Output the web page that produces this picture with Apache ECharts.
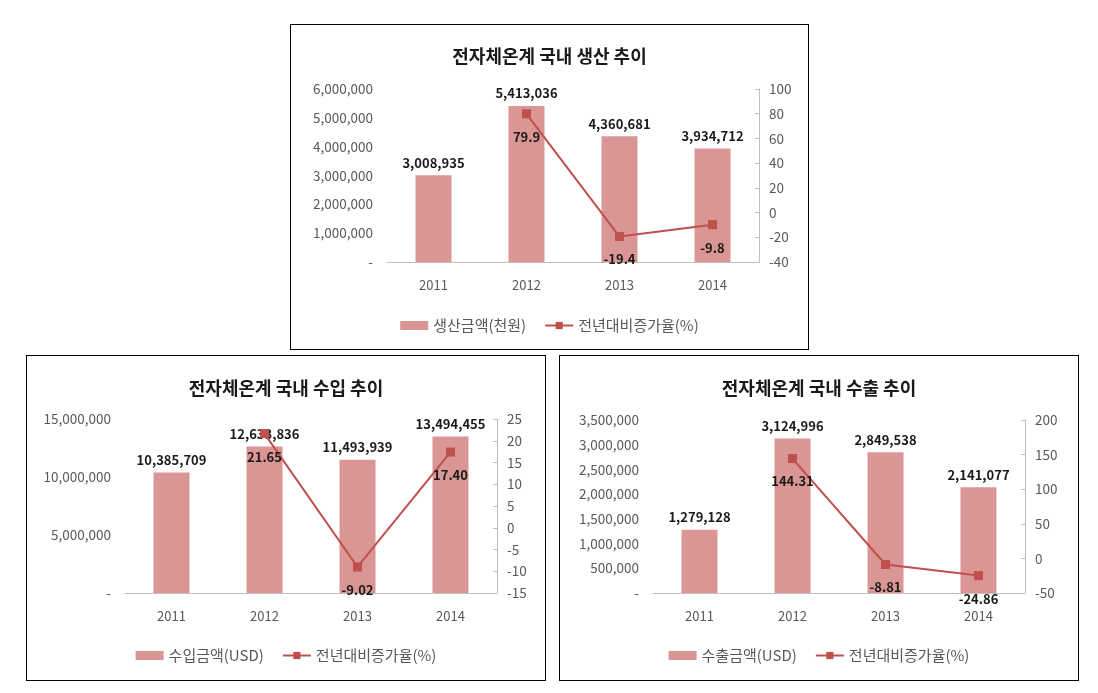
<!DOCTYPE html>
<html>
<head>
<meta charset="utf-8">
<script src="https://cdn.jsdelivr.net/npm/echarts@6/dist/echarts.min.js"></script>
<style>
  html, body { margin: 0; padding: 0; background: #ffffff; width: 1098px; height: 693px; overflow: hidden; }
  .panel { position: absolute; border: 1.5px solid #000; box-sizing: border-box; background: #fff; }
</style>
</head>
<body>
<div id="p1" class="panel" style="left:290px; top:24px; width:519px; height:326px;"></div>
<div id="p2" class="panel" style="left:26px; top:355px; width:520px; height:326px;"></div>
<div id="p3" class="panel" style="left:559px; top:355px; width:520px; height:326px;"></div>
<script>
// ---- data ----
const years = ['2011', '2012', '2013', '2014'];

const prodTitle = '전자체온계 국내 생산 추이';
const prodBarName = '생산금액(천원)';
const prodValues = [3008935, 5413036, 4360681, 3934712];
const prodGrowth = [null, 79.9, -19.4, -9.8];

const impTitle = '전자체온계 국내 수입 추이';
const impBarName = '수입금액(USD)';
const impValues = [10385709, 12633836, 11493939, 13494455];
const impGrowth = [null, 21.65, -9.02, 17.40];

const expTitle = '전자체온계 국내 수출 추이';
const expBarName = '수출금액(USD)';
const expValues = [1279128, 3124996, 2849538, 2141077];
const expGrowth = [null, 144.31, -8.81, -24.86];

const lineName = '전년대비증가율(%)';

// axis ranges
const prodLeftAxis = { min: 0, max: 6000000, interval: 1000000 };
const prodRightAxis = { min: -40, max: 100, interval: 20 };
const impLeftAxis = { min: 0, max: 15000000, interval: 5000000 };
const impRightAxis = { min: -15, max: 25, interval: 5 };
const expLeftAxis = { min: 0, max: 3500000, interval: 500000 };
const expRightAxis = { min: -50, max: 200, interval: 50 };

// ---- styling ----
const FONT = '"Noto Sans CJK KR", "Noto Sans", sans-serif';
const BAR_COLOR = '#d99694';
const LINE_COLOR = '#c0504d';
const AXIS_TEXT = '#595959';

function fmtNum(v) { return Number(v).toLocaleString('en-US'); }

function makeOption(cfg) {
  return {
    animation: false,
    textStyle: { fontFamily: FONT },
    title: {
      text: cfg.title, left: 'center', top: cfg.titleTop,
      textStyle: { fontFamily: FONT, fontSize: 18, fontWeight: 'bold', color: '#1a1a1a' }
    },
    legend: {
      bottom: cfg.legendBottom, left: 'center',
      itemGap: 18, itemWidth: 28, itemHeight: 9,
      textStyle: { fontFamily: FONT, fontSize: 15, color: AXIS_TEXT },
      data: [
        { name: cfg.barName, icon: 'rect' },
        { name: lineName }
      ]
    },
    grid: { left: cfg.grid.left, top: cfg.grid.top, width: cfg.grid.width, height: cfg.grid.height },
    xAxis: {
      type: 'category', data: years,
      axisLine: { lineStyle: { color: '#bfbfbf', width: 1 } },
      axisTick: { show: false },
      axisLabel: { color: AXIS_TEXT, fontSize: 13, margin: 17, fontFamily: FONT }
    },
    yAxis: [
      {
        type: 'value', min: cfg.left.min, max: cfg.left.max, interval: cfg.left.interval,
        alignTicks: false,
        splitLine: { show: false },
        axisLine: { show: false }, axisTick: { show: false },
        axisLabel: {
          color: AXIS_TEXT, fontSize: 13.5, margin: 14, fontFamily: FONT,
          formatter: v => v === 0 ? '-' : fmtNum(v)
        }
      },
      {
        type: 'value', min: cfg.right.min, max: cfg.right.max, interval: cfg.right.interval,
        alignTicks: false,
        position: 'right',
        splitLine: { show: false },
        axisLine: { show: true, lineStyle: { color: '#bfbfbf', width: 1 } },
        axisTick: { show: true, inside: true, length: 4, lineStyle: { color: '#bfbfbf' } },
        axisLabel: { color: AXIS_TEXT, fontSize: 13.5, margin: 10, fontFamily: FONT }
      }
    ],
    series: [
      {
        name: cfg.barName, type: 'bar', data: cfg.values, barWidth: 36,
        itemStyle: { color: BAR_COLOR },
        label: {
          show: true, position: 'top', distance: 6,
          fontFamily: FONT, fontSize: 13, fontWeight: 'bold', color: '#1a1a1a',
          formatter: p => fmtNum(p.value)
        }
      },
      {
        name: lineName, type: 'line', yAxisIndex: 1, data: cfg.growth,
        symbol: 'rect', symbolSize: 9, connectNulls: false,
        lineStyle: { color: LINE_COLOR, width: 2 },
        itemStyle: { color: LINE_COLOR },
        z: 3,
        label: {
          show: true, position: 'bottom', distance: 12,
          fontFamily: FONT, fontSize: 13, fontWeight: 'bold', color: '#1a1a1a',
          formatter: p => p.value == null ? '' : Number(p.value).toFixed(cfg.decimals)
        }
      }
    ]
  };
}

const c1 = echarts.init(document.getElementById('p1'), null, { renderer: 'canvas' });
c1.setOption(makeOption({
  title: prodTitle, barName: prodBarName, values: prodValues, growth: prodGrowth,
  left: prodLeftAxis, right: prodRightAxis, decimals: 1,
  titleTop: 17, legendBottom: 11,
  grid: { left: 96, top: 64, width: 372, height: 173 }
}));

const c2 = echarts.init(document.getElementById('p2'), null, { renderer: 'canvas' });
c2.setOption(makeOption({
  title: impTitle, barName: impBarName, values: impValues, growth: impGrowth,
  left: impLeftAxis, right: impRightAxis, decimals: 2,
  titleTop: 18, legendBottom: 12,
  grid: { left: 98, top: 63, width: 372, height: 174 }
}));

const c3 = echarts.init(document.getElementById('p3'), null, { renderer: 'canvas' });
c3.setOption(makeOption({
  title: expTitle, barName: expBarName, values: expValues, growth: expGrowth,
  left: expLeftAxis, right: expRightAxis, decimals: 2,
  titleTop: 18, legendBottom: 12,
  grid: { left: 93, top: 64, width: 372, height: 173 }
}));
</script>
</body>
</html>
